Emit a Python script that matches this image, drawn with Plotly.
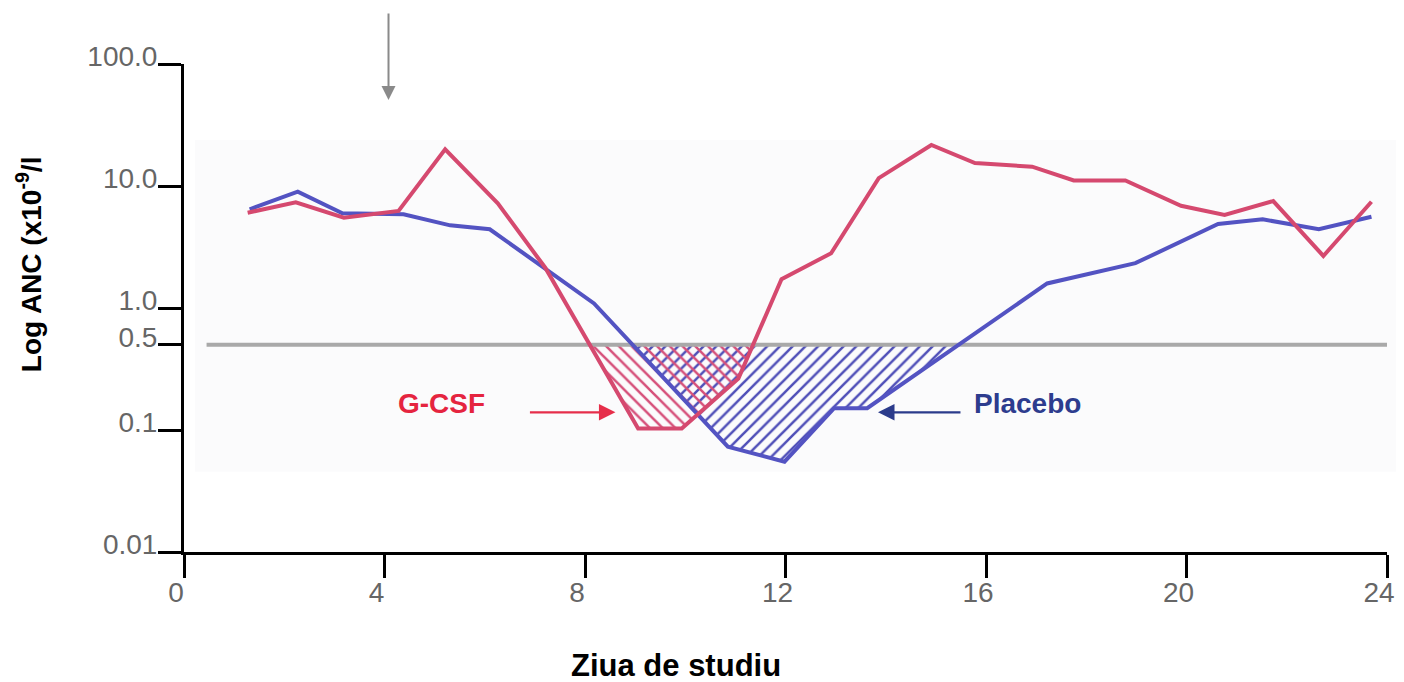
import numpy as np
import plotly.graph_objects as go

# ---- data ----
days_gcsf = [1.27, 2.23, 3.19, 4.28, 5.21, 6.26, 7.21, 9.06, 9.93, 11.06, 11.92,
             12.91, 13.86, 14.91, 15.78, 16.92, 17.75, 18.78, 19.89, 20.76,
             21.73, 22.73, 23.69]
anc_gcsf = [6.04, 7.35, 5.50, 6.24, 20.0, 7.21, 2.13, 0.103, 0.103, 0.264, 1.72,
            2.81, 11.6, 21.7, 15.4, 14.4, 11.1, 11.1, 6.89, 5.78,
            7.53, 2.67, 7.43]

days_placebo = [1.31, 2.27, 3.16, 4.38, 5.31, 6.10, 8.18, 10.85, 11.98, 12.97,
                13.63, 17.22, 18.98, 20.63, 21.52, 22.64, 23.69]
anc_placebo = [6.44, 8.98, 5.97, 5.86, 4.76, 4.42, 1.09, 0.073, 0.055, 0.151,
               0.151, 1.59, 2.33, 4.88, 5.33, 4.42, 5.60]

threshold = 0.5
threshold_days = [0.45, 24.03]
dosing_day = 4.08

x_ticks = [0, 4, 8, 12, 16, 20, 24]
y_tickvals = [100, 10, 1, 0.5, 0.1, 0.01]
y_ticktext = ["100.0", "10.0", "1.0", "0.5", "0.1", "0.01"]

FONT = "Arial, 'Liberation Sans', sans-serif"
RED = "#d5496f"
BLUE = "#5353c2"


def below_region(xs, ys, thr):
    """Polygon(s) bounded by the threshold and the curve where curve < thr (log space)."""
    lx = np.asarray(xs, float)
    ly = np.log10(np.asarray(ys, float))
    lt = np.log10(thr)
    px, py = [], []
    if ly[0] < lt:
        px += [lx[0], lx[0]]
        py += [lt, ly[0]]
    for i in range(len(lx) - 1):
        a, b = ly[i] - lt, ly[i + 1] - lt
        if a * b < 0:
            xc = lx[i] + (lx[i + 1] - lx[i]) * a / (a - b)
            px.append(xc)
            py.append(lt)
            if b > 0:
                px.append(None)
                py.append(None)
        if ly[i + 1] < lt:
            px.append(lx[i + 1])
            py.append(ly[i + 1])
    return px, [None if v is None else 10 ** v for v in py]


fig = go.Figure()

# hatched areas below the 0.5 threshold
for xs, ys, shape, col in [(days_placebo, anc_placebo, "/", "#4f4fb8"),
                           (days_gcsf, anc_gcsf, "\\", "#d6507a")]:
    hx, hy = below_region(xs, ys, threshold)
    fig.add_trace(go.Scatter(
        x=hx, y=hy, mode="lines", fill="toself",
        line=dict(width=0, color="rgba(0,0,0,0)"),
        fillcolor="rgba(0,0,0,0)",
        fillpattern=dict(shape=shape, size=9, solidity=0.28, fgcolor=col,
                         bgcolor="rgba(0,0,0,0)", fgopacity=1),
        hoverinfo="skip", showlegend=False))

# threshold line
fig.add_trace(go.Scatter(x=threshold_days, y=[threshold, threshold], mode="lines",
                         line=dict(color="#a9a9a9", width=4), showlegend=False))

# curves
fig.add_trace(go.Scatter(x=days_placebo, y=anc_placebo, mode="lines", name="Placebo",
                         line=dict(color=BLUE, width=4), showlegend=False))
fig.add_trace(go.Scatter(x=days_gcsf, y=anc_gcsf, mode="lines", name="G-CSF",
                         line=dict(color=RED, width=4), showlegend=False))

axis_common = dict(showline=True, linewidth=3, linecolor="black", ticks="outside",
                   ticklen=23, tickwidth=3, tickcolor="black", showgrid=False,
                   zeroline=False, tickfont=dict(family=FONT, size=28, color="#666666"))

fig.update_xaxes(range=[0, 24], tickvals=x_ticks, ticklabelshift=-8,
                 ticklabelstandoff=-10, **axis_common)
fig.update_yaxes(type="log", range=[-2, 2], tickvals=y_tickvals, ticktext=y_ticktext,
                 ticklabelshift=-8, ticklabelstandoff=-5, **axis_common)

fig.update_layout(
    width=1404, height=682,
    margin=dict(l=184, r=9, t=64, b=130),
    paper_bgcolor="white", plot_bgcolor="white",
    font=dict(family=FONT),
    shapes=[dict(type="rect", xref="paper", yref="paper", x0=0.009, x1=1.0074,
                 y0=0.1645, y1=0.8443, fillcolor="#fbfbfc", line=dict(width=0),
                 layer="below")],
    annotations=[
        dict(text="<b>Log ANC (x10<sup>-9</sup>/l</b>", xref="paper", yref="paper",
             x=-0.1288, y=0.590, textangle=-90, showarrow=False,
             xanchor="center", yanchor="middle",
             font=dict(family=FONT, size=28, color="black")),
        dict(text="<b>Ziua de studiu</b>", xref="paper", yref="paper",
             x=0.4088, y=-0.232, showarrow=False, xanchor="center", yanchor="middle",
             font=dict(family=FONT, size=31, color="black")),
        dict(text="<b>G-CSF</b>", xref="x", yref="y", x=4.22, y=np.log10(0.1655),
             showarrow=False, xanchor="left", yanchor="middle",
             font=dict(family=FONT, size=28, color="#e5243f")),
        dict(text="<b>Placebo</b>", xref="x", yref="y", x=15.72, y=np.log10(0.1655),
             showarrow=False, xanchor="left", yanchor="middle",
             font=dict(family=FONT, size=28, color="#2d3c8e")),
        dict(text="", xref="x", yref="y", x=8.607, y=np.log10(0.1396), ax=-87, ay=0,
             showarrow=True, arrowhead=2, arrowsize=1.5, arrowwidth=2.2,
             arrowcolor="#e62e4a"),
        dict(text="", xref="x", yref="y", x=13.845, y=np.log10(0.1396), ax=84, ay=0,
             showarrow=True, arrowhead=2, arrowsize=1.5, arrowwidth=2.2,
             arrowcolor="#2b3b8b"),
        dict(text="", xref="x", yref="paper", x=dosing_day, y=0.9262, ax=0, ay=-88,
             showarrow=True, arrowhead=2, arrowsize=1.4, arrowwidth=2,
             arrowcolor="#8a8a8a"),
    ],
)

fig.write_html("out.html")
